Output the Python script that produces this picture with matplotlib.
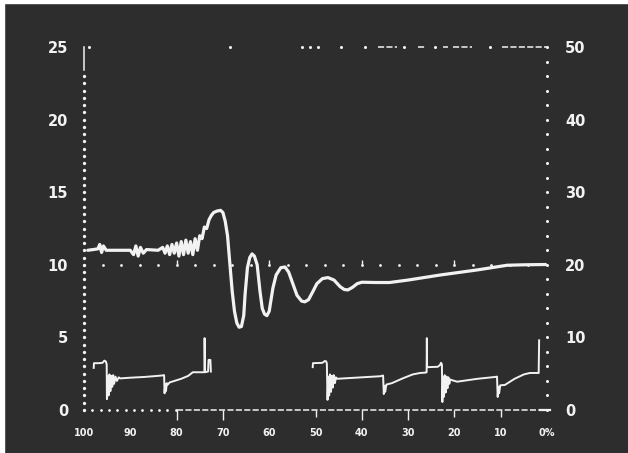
import matplotlib
matplotlib.use("Agg")
import matplotlib.pyplot as plt
from matplotlib.patches import Rectangle
import numpy as np

BG = "#2d2d2d"
FG = "#f2f2f2"

# ---- axes labels -------------------------------------------------------
x_ticks = [100, 90, 80, 70, 60, 50, 40, 30, 20, 10, 0]
x_labels = ["100", "90", "80", "70", "60", "50", "40", "30", "20", "10", "0%"]
left_ticks = [0, 5, 10, 15, 20, 25]
right_ticks = [0, 10, 20, 30, 40, 50]

# ---- main trace (left scale) -------------------------------------------
main_x = [99.2, 98.0, 97.0, 96.6, 96.2, 95.8, 95.2, 93.0, 90.0, 89.3, 88.8,
          88.3, 87.8, 87.2, 86.5, 84.0, 83.0, 82.5, 82.0, 81.5, 81.0, 80.5,
          80.0, 79.5, 79.0, 78.5, 78.0, 77.5, 77.0, 76.5, 76.0, 75.5, 75.0,
          74.5, 74.0, 73.5, 73.0, 72.5, 72.0, 71.3, 70.5, 70.0, 69.5, 69.0,
          68.5, 68.0, 67.5, 67.0, 66.5, 66.0, 65.5, 65.2, 64.7, 64.2, 63.7,
          63.2, 62.6, 62.0, 61.5, 61.0, 60.5, 60.0, 59.2, 58.5, 57.5, 56.6,
          55.8, 54.9, 54.0, 53.0, 52.3, 51.5, 50.5, 49.7, 48.5, 47.3, 46.0,
          44.7, 43.8, 43.0, 42.0, 41.0, 40.0, 37.0, 34.0, 30.0, 23.0, 15.0,
          12.0, 8.6, 5.0, 0.3]
main_y = [11.0, 11.05, 11.1, 11.4, 10.85, 11.3, 11.0, 11.0, 11.0, 10.7, 11.3,
          10.6, 11.2, 10.8, 11.05, 11.0, 11.2, 10.8, 11.3, 10.7, 11.4, 10.8,
          11.5, 10.6, 11.6, 10.7, 11.7, 10.8, 11.6, 10.7, 11.8, 11.0, 12.0,
          11.8, 12.6, 12.5, 13.1, 13.4, 13.6, 13.7, 13.75, 13.6, 13.0, 12.0,
          10.1, 8.2, 6.8, 6.0, 5.7, 5.75, 6.5, 8.0, 9.8, 10.5, 10.75,
          10.6, 10.0, 8.2, 7.0, 6.6, 6.5, 6.8, 8.4, 9.3, 9.8, 9.85,
          9.5, 8.7, 7.9, 7.5, 7.45, 7.6, 8.2, 8.7, 9.05, 9.12, 8.95,
          8.5, 8.3, 8.27, 8.45, 8.7, 8.8, 8.78, 8.78, 8.95, 9.3, 9.65,
          9.8, 9.97, 10.0, 10.02]

# ---- lower pulse trace (right scale), two unbroken pieces --------------
pulse1_x = [97.9, 97.85, 96.8, 96.0, 95.6, 95.3, 95.1, 95.05, 94.9, 94.7,
            94.5, 94.3, 94.1, 93.9, 93.7, 93.5, 93.2, 92.9, 92.5, 92.2, 90.0,
            87.0, 85.0, 83.2, 82.7, 82.6, 82.45, 82.3, 82.1, 81.9, 81.5, 79.0,
            77.5, 76.7, 76.5, 74.4, 74.0, 73.95, 73.85, 73.2, 73.1, 72.7, 72.6]
pulse1_y = [5.8, 6.45, 6.45, 6.5, 6.8, 6.7, 6.3, 1.5, 4.6, 2.0,
            4.9, 2.6, 4.7, 3.2, 4.8, 3.6, 4.6, 4.0, 4.5, 4.35, 4.45,
            4.55, 4.65, 4.75, 4.8, 2.3, 3.6, 2.6, 3.7, 3.5, 3.8, 4.3,
            4.7, 5.1, 5.2, 5.2, 5.2, 9.9, 5.2, 5.3, 6.9, 6.9, 5.3]

pulse2_x = [50.6, 50.55, 48.5, 48.0, 47.7, 47.55, 47.4, 47.25, 47.05, 46.85,
            46.65, 46.45, 46.25, 46.05, 45.8, 45.6, 45.3, 40.0, 36.0, 35.4,
            35.25, 35.1, 34.95, 34.7, 33.5, 31.0, 29.0, 27.4, 26.2, 26.0,
            25.95, 25.9, 23.6, 23.1, 22.9, 22.7, 22.6, 22.45, 22.3, 22.1,
            21.9, 21.7, 21.5, 21.3, 21.1, 20.9, 20.5, 19.4, 15.0, 11.2, 10.8,
            10.65, 10.5, 10.35, 10.1, 9.1, 7.0, 5.0, 3.7, 1.8, 1.7]
pulse2_y = [5.9, 6.45, 6.5, 6.75, 6.7, 6.4, 1.4, 4.6, 2.0, 4.9,
            2.5, 4.7, 3.1, 4.8, 3.7, 4.5, 4.3, 4.5, 4.65, 4.75,
            2.2, 3.3, 2.5, 3.5, 3.7, 4.4, 4.9, 5.1, 5.15, 5.2,
            9.9, 5.9, 5.95, 6.2, 6.5, 6.3, 1.1, 4.5, 1.8, 4.8,
            2.4, 4.6, 3.0, 4.5, 3.6, 4.2, 4.1, 3.9, 4.3, 4.55, 4.6,
            1.8, 3.2, 2.3, 3.4, 3.45, 4.3, 4.9, 5.1, 5.1, 9.6]

# ---- figure ------------------------------------------------------------
fig = plt.figure(figsize=(6.28, 4.53), dpi=100, facecolor=BG)
fig.add_artist(Rectangle((0, 0), 4 / 628, 1, transform=fig.transFigure,
                         color="white", zorder=10))
fig.add_artist(Rectangle((0, 1 - 3 / 453), 1, 3 / 453,
                         transform=fig.transFigure, color="white", zorder=10))

ax = fig.add_axes([84 / 628, 43 / 453, 463 / 628, 363 / 453])
ax.set_facecolor("none")
ax.set_xlim(100, 0)
ax.set_ylim(0, 25)
for s in ax.spines.values():
    s.set_visible(False)

ax2 = ax.twinx()
ax2.set_ylim(0, 50)
for s in ax2.spines.values():
    s.set_visible(False)

# tick labels
ax.set_xticks(x_ticks, x_labels)
ax.set_yticks(left_ticks, [str(v) for v in left_ticks])
ax2.set_yticks(right_ticks, [str(v) for v in right_ticks])
ax.tick_params(axis="x", length=0, pad=13, labelsize=7, labelcolor=FG)
ax.tick_params(axis="y", length=0, pad=11.5, labelsize=10.5, labelcolor=FG)
ax2.tick_params(axis="y", length=0, pad=13, labelsize=10.5, labelcolor=FG)
for lbl in ax.get_xticklabels() + ax.get_yticklabels() + ax2.get_yticklabels():
    lbl.set_fontweight("bold")

dot_kw = dict(color=FG, linestyle="none", marker="o", markeredgewidth=0,
              clip_on=False)

# left frame: dotted, solid near the top
ax.plot(np.full(47, 100.0), np.arange(0, 23.5, 0.5), markersize=2.4, **dot_kw)
ax.plot([100, 100], [23.4, 25], color=FG, lw=1.1, clip_on=False)
# right frame: sparser dots
ax.plot(np.full(26, 0.0), np.arange(0, 26, 1.0), markersize=2.2, **dot_kw)
# bottom frame
ax.plot(np.arange(100, 80, -1.8), np.zeros(12), markersize=2.0, **dot_kw)
ax.plot([80, 0], [0, 0], color=FG, lw=1.1, linestyle=(0, (4, 1.5)),
        clip_on=False)
ax.plot([1.6, -0.6], [0, 0], color=FG, lw=1.6, clip_on=False)
# ticks under the bottom frame
ax.vlines([80, 70, 40, 30], -0.7, 0, color=FG, lw=1.0, clip_on=False)
ax.vlines([50, 20, 10], -0.45, 0, color=FG, lw=1.0, clip_on=False)

# top frame: broken dashes on the right half
top_dots = [98.9, 68.5, 52.9, 51.2, 49.5, 44.5, 39.3, 30.9, 24.2, 12.3]
ax.plot(top_dots, np.full(len(top_dots), 25.0), markersize=2.2, **dot_kw)
top_dashes = [(36.5, 32.4), (27.9, 26.3), (22.5, 21.3), (20.3, 16.2),
              (9.7, 0.0)]
for a, b in top_dashes:
    ax.plot([a, b], [25, 25], color=FG, lw=1.1, linestyle=(0, (4, 1.5)),
            clip_on=False)

# reference level at 10
ax.plot(np.arange(100, 0, -4.0), np.full(25, 10.0), markersize=2.0, **dot_kw)
ax.vlines([80, 60, 40, 20], 10, 10.35, color=FG, lw=1.0)

# traces
ax.plot(main_x, main_y, color=FG, lw=2.3, solid_joinstyle="round",
        solid_capstyle="round")
ax2.plot(pulse1_x, pulse1_y, color=FG, lw=1.4, solid_joinstyle="round")
ax2.plot(pulse2_x, pulse2_y, color=FG, lw=1.4, solid_joinstyle="round")

fig.savefig("out.png", dpi=100, facecolor=BG)
